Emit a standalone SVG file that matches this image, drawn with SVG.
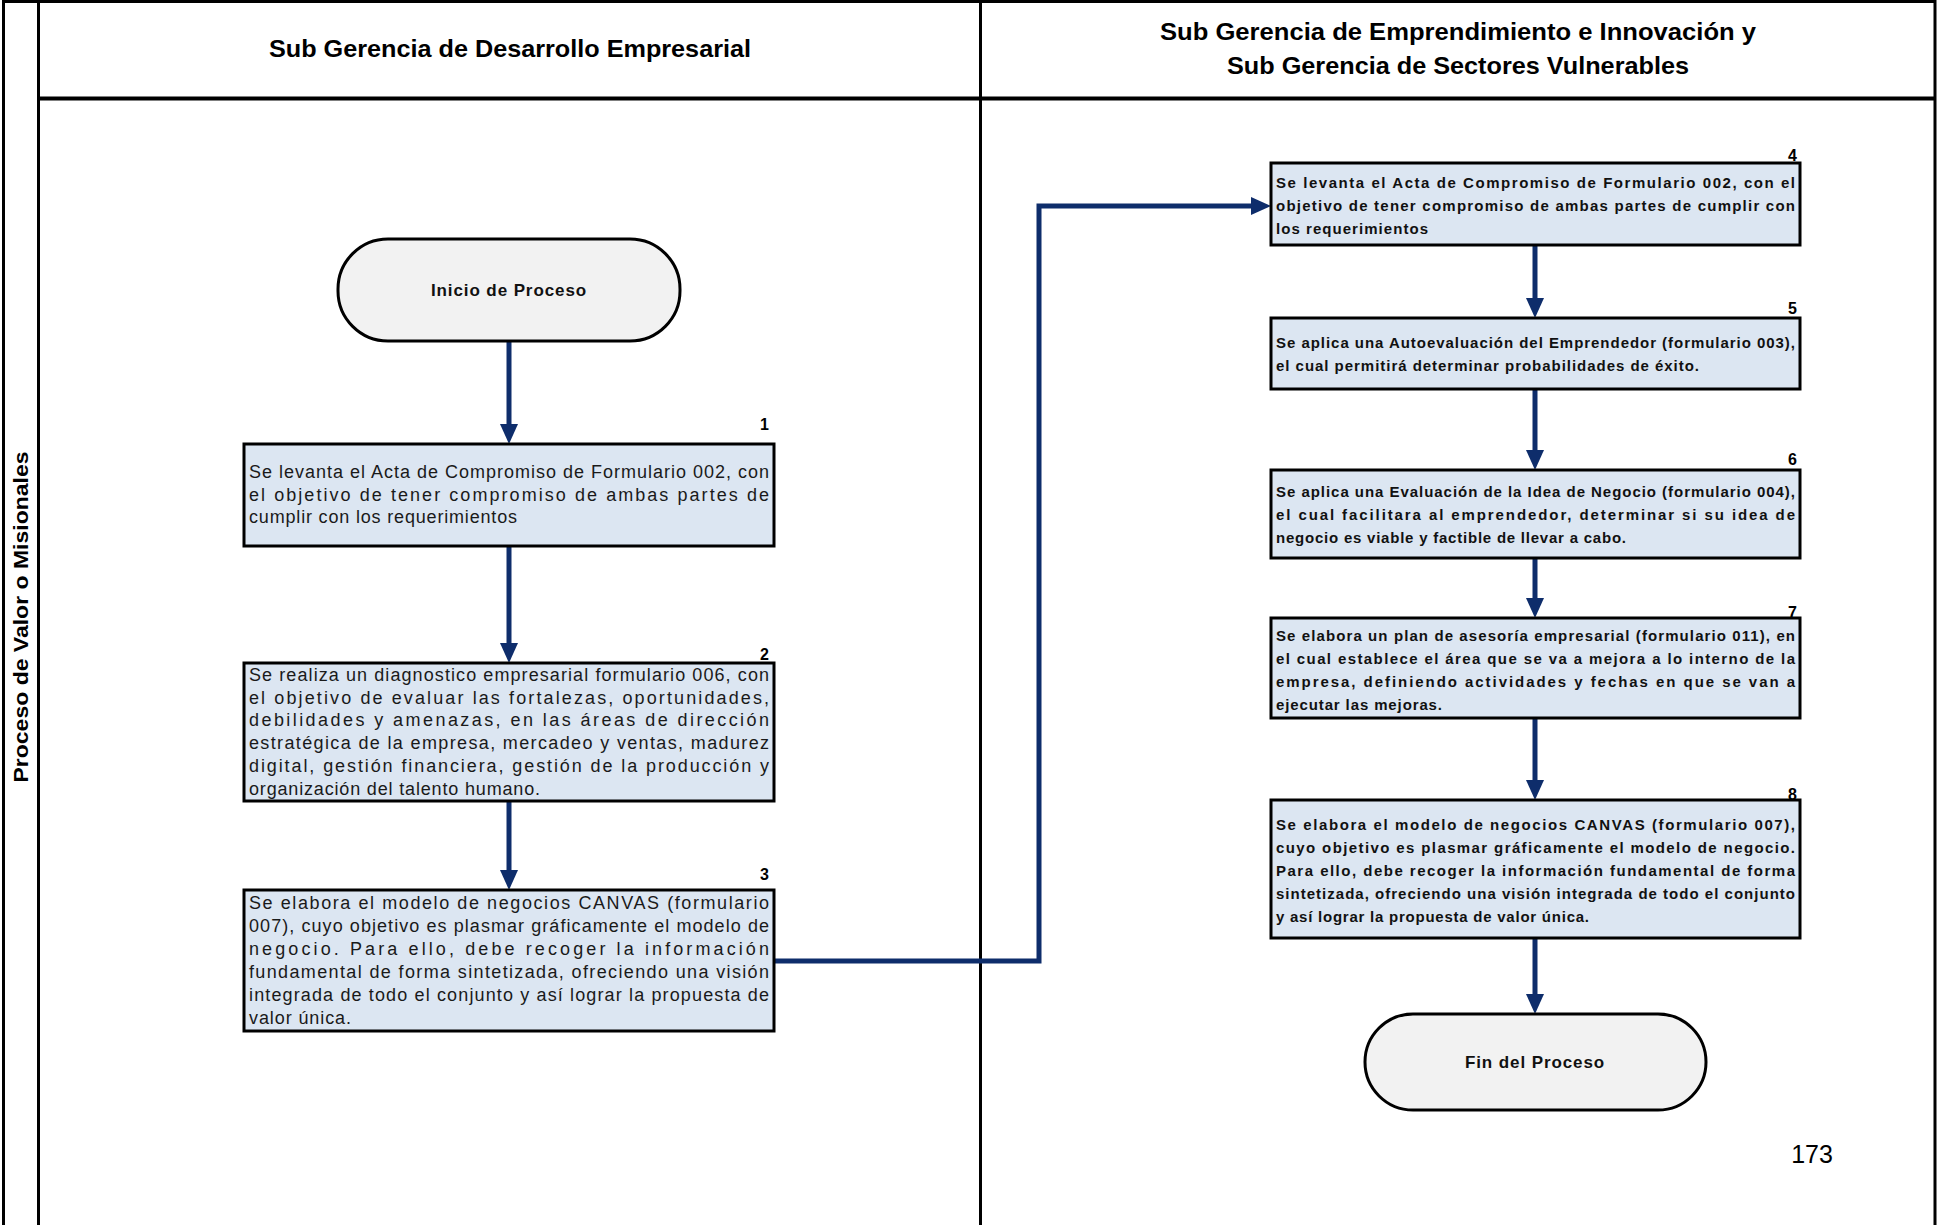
<svg xmlns="http://www.w3.org/2000/svg" width="1954" height="1225" viewBox="0 0 1954 1225">
  <style>
    .frame { stroke: #000; stroke-width: 3; fill: none; }
    .hdr { font-family: "Liberation Sans", Arial, sans-serif; font-weight: bold; font-size: 24px; fill: #000; text-anchor: middle; }
    .lane { font-family: "Liberation Sans", Arial, sans-serif; font-weight: bold; font-size: 21px; fill: #000; text-anchor: middle; }
    .term { fill: #f2f2f2; stroke: #000; stroke-width: 3; }
    .termtxt { font-family: "Liberation Sans", Arial, sans-serif; font-weight: bold; font-size: 17px; letter-spacing: 0.9px; fill: #111; text-anchor: middle; }
    .box { fill: #dce6f2; stroke: #000; stroke-width: 3; }
    .txtL { font-family: "Liberation Sans", Arial, sans-serif; font-size: 18px; fill: #1a1a1a; }
    .txtR { font-family: "Liberation Sans", Arial, sans-serif; font-weight: bold; font-size: 15px; fill: #111; }
    .num { font-family: "Liberation Sans", Arial, sans-serif; font-weight: bold; font-size: 16px; fill: #000; text-anchor: end; }
    .page { font-family: "Liberation Sans", Arial, sans-serif; font-size: 25px; fill: #000; text-anchor: middle; }
    .conn { stroke: #0e2d6b; stroke-width: 5; fill: none; marker-end: url(#arrow); }
  </style>
  <defs>
    <marker id="arrow" viewBox="0 0 20 18" refX="0" refY="9" markerWidth="20" markerHeight="18" markerUnits="userSpaceOnUse" orient="auto">
      <path d="M0,0 L20,9 L0,18 z" fill="#0e2d6b"/>
    </marker>
  </defs>

  <rect width="1954" height="1225" fill="#fff"/>

  <!-- swimlane frame -->
  <g id="frame">
    <line class="frame" x1="3.5" y1="0" x2="3.5" y2="1225"/>
    <line class="frame" x1="38.5" y1="0" x2="38.5" y2="1225"/>
    <line class="frame" x1="980.5" y1="0" x2="980.5" y2="1225"/>
    <line class="frame" x1="1935" y1="0" x2="1935" y2="1225"/>
    <line class="frame" x1="3" y1="1.5" x2="1936" y2="1.5"/>
    <line class="frame" x1="38" y1="98.5" x2="1936" y2="98.5" style="stroke-width:4"/>
  </g>

  <!-- lane headers -->
  <g id="header-left">
    <text class="hdr" x="510" y="57" textLength="482" lengthAdjust="spacingAndGlyphs">Sub Gerencia de Desarrollo Empresarial</text>
  </g>
  <g id="header-right">
    <text class="hdr" x="1458" y="40" textLength="596" lengthAdjust="spacingAndGlyphs">Sub Gerencia de Emprendimiento e Innovación y</text>
    <text class="hdr" x="1458" y="74" textLength="462" lengthAdjust="spacingAndGlyphs">Sub Gerencia de Sectores Vulnerables</text>
  </g>
  <g id="lane-label">
    <text class="lane" transform="translate(28,617) rotate(-90)" x="0" y="0" textLength="331" lengthAdjust="spacingAndGlyphs">Proceso de Valor o Misionales</text>
  </g>

  <!-- connectors -->
  <g id="connectors">
    <line class="conn" x1="509" y1="341" x2="509" y2="424"/>
    <line class="conn" x1="509" y1="546" x2="509" y2="643"/>
    <line class="conn" x1="509" y1="801" x2="509" y2="870"/>
    <path class="conn" d="M774,961 H1039 V206 H1251"/>
    <line class="conn" x1="1535" y1="245" x2="1535" y2="298"/>
    <line class="conn" x1="1535" y1="389" x2="1535" y2="450"/>
    <line class="conn" x1="1535" y1="558" x2="1535" y2="598"/>
    <line class="conn" x1="1535" y1="718" x2="1535" y2="780"/>
    <line class="conn" x1="1535" y1="938" x2="1535" y2="994"/>
  </g>

  <!-- start -->
  <g id="start">
    <rect class="term" x="338" y="239" width="342" height="102" rx="50" ry="50"/>
    <text class="termtxt" x="509" y="296">Inicio de Proceso</text>
  </g>

  <!-- step 1 -->
  <g id="step1">
    <text class="num" x="769" y="430">1</text>
    <rect class="box" x="244" y="444" width="530" height="102"/>
    <text class="txtL" x="249" y="478" textLength="520" lengthAdjust="spacing">Se levanta el Acta de Compromiso de Formulario 002, con</text>
    <text class="txtL" x="249" y="501" textLength="520" lengthAdjust="spacing">el objetivo de tener compromiso de ambas partes de</text>
    <text class="txtL" x="249" y="523" textLength="268" lengthAdjust="spacing">cumplir con los requerimientos</text>
  </g>

  <!-- step 2 -->
  <g id="step2">
    <text class="num" x="769" y="660">2</text>
    <rect class="box" x="244" y="663" width="530" height="138"/>
    <text class="txtL" x="249" y="681" textLength="520" lengthAdjust="spacing">Se realiza un diagnostico empresarial formulario 006, con</text>
    <text class="txtL" x="249" y="704" textLength="520" lengthAdjust="spacing">el objetivo de evaluar las fortalezas, oportunidades,</text>
    <text class="txtL" x="249" y="726" textLength="520" lengthAdjust="spacing">debilidades y amenazas, en las áreas de dirección</text>
    <text class="txtL" x="249" y="749" textLength="520" lengthAdjust="spacing">estratégica de la empresa, mercadeo y ventas, madurez</text>
    <text class="txtL" x="249" y="772" textLength="520" lengthAdjust="spacing">digital, gestión financiera, gestión de la producción y</text>
    <text class="txtL" x="249" y="795" textLength="291" lengthAdjust="spacing">organización del talento humano.</text>
  </g>

  <!-- step 3 -->
  <g id="step3">
    <text class="num" x="769" y="880">3</text>
    <rect class="box" x="244" y="890" width="530" height="141"/>
    <text class="txtL" x="249" y="909" textLength="520" lengthAdjust="spacing">Se elabora el modelo de negocios CANVAS (formulario</text>
    <text class="txtL" x="249" y="932" textLength="520" lengthAdjust="spacing">007), cuyo objetivo es plasmar gráficamente el modelo de</text>
    <text class="txtL" x="249" y="955" textLength="520" lengthAdjust="spacing">negocio. Para ello, debe recoger la información</text>
    <text class="txtL" x="249" y="978" textLength="520" lengthAdjust="spacing">fundamental de forma sintetizada, ofreciendo una visión</text>
    <text class="txtL" x="249" y="1001" textLength="520" lengthAdjust="spacing">integrada de todo el conjunto y así lograr la propuesta de</text>
    <text class="txtL" x="249" y="1024" textLength="102" lengthAdjust="spacing">valor única.</text>
  </g>

  <!-- step 4 -->
  <g id="step4">
    <text class="num" x="1797" y="161">4</text>
    <rect class="box" x="1271" y="163" width="529" height="82"/>
    <text class="txtR" x="1276" y="188" textLength="519" lengthAdjust="spacing">Se levanta el Acta de Compromiso de Formulario 002, con el</text>
    <text class="txtR" x="1276" y="211" textLength="519" lengthAdjust="spacing">objetivo de tener compromiso de ambas partes de cumplir con</text>
    <text class="txtR" x="1276" y="234" textLength="152" lengthAdjust="spacing">los requerimientos</text>
  </g>

  <!-- step 5 -->
  <g id="step5">
    <text class="num" x="1797" y="314">5</text>
    <rect class="box" x="1271" y="318" width="529" height="71"/>
    <text class="txtR" x="1276" y="348" textLength="519" lengthAdjust="spacing">Se aplica una Autoevaluación del Emprendedor (formulario 003),</text>
    <text class="txtR" x="1276" y="371" textLength="423" lengthAdjust="spacing">el cual permitirá determinar probabilidades de éxito.</text>
  </g>

  <!-- step 6 -->
  <g id="step6">
    <text class="num" x="1797" y="465">6</text>
    <rect class="box" x="1271" y="470" width="529" height="88"/>
    <text class="txtR" x="1276" y="497" textLength="519" lengthAdjust="spacing">Se aplica una Evaluación de la Idea de Negocio (formulario 004),</text>
    <text class="txtR" x="1276" y="520" textLength="519" lengthAdjust="spacing">el cual facilitara al emprendedor, determinar si su idea de</text>
    <text class="txtR" x="1276" y="543" textLength="350" lengthAdjust="spacing">negocio es viable y factible de llevar a cabo.</text>
  </g>

  <!-- step 7 -->
  <g id="step7">
    <text class="num" x="1797" y="618">7</text>
    <rect class="box" x="1271" y="618" width="529" height="100"/>
    <text class="txtR" x="1276" y="641" textLength="519" lengthAdjust="spacing">Se elabora un plan de asesoría empresarial (formulario 011), en</text>
    <text class="txtR" x="1276" y="664" textLength="519" lengthAdjust="spacing">el cual establece el área que se va a mejora a lo interno de la</text>
    <text class="txtR" x="1276" y="687" textLength="519" lengthAdjust="spacing">empresa, definiendo actividades y fechas en que se van a</text>
    <text class="txtR" x="1276" y="710" textLength="166" lengthAdjust="spacing">ejecutar las mejoras.</text>
  </g>

  <!-- step 8 -->
  <g id="step8">
    <text class="num" x="1797" y="800">8</text>
    <rect class="box" x="1271" y="800" width="529" height="138"/>
    <text class="txtR" x="1276" y="830" textLength="519" lengthAdjust="spacing">Se elabora el modelo de negocios CANVAS (formulario 007),</text>
    <text class="txtR" x="1276" y="853" textLength="519" lengthAdjust="spacing">cuyo objetivo es plasmar gráficamente el modelo de negocio.</text>
    <text class="txtR" x="1276" y="876" textLength="519" lengthAdjust="spacing">Para ello, debe recoger la información fundamental de forma</text>
    <text class="txtR" x="1276" y="899" textLength="519" lengthAdjust="spacing">sintetizada, ofreciendo una visión integrada de todo el conjunto</text>
    <text class="txtR" x="1276" y="922" textLength="313" lengthAdjust="spacing">y así lograr la propuesta de valor única.</text>
  </g>

  <!-- end -->
  <g id="end">
    <rect class="term" x="1365" y="1014" width="341" height="96" rx="48" ry="48"/>
    <text class="termtxt" x="1535" y="1068">Fin del Proceso</text>
  </g>

  <!-- page number -->
  <text class="page" x="1812" y="1163">173</text>
</svg>
